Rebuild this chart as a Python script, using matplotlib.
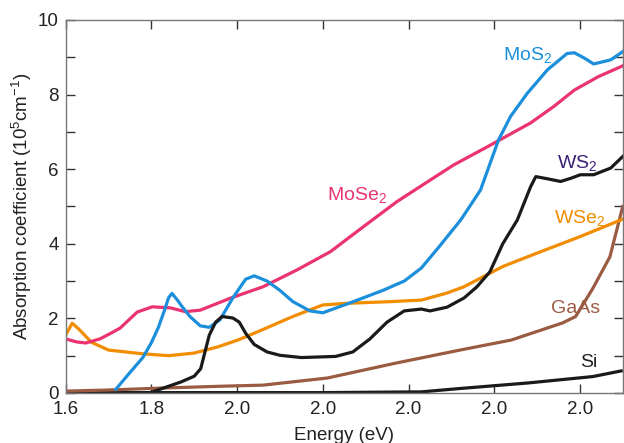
import matplotlib.pyplot as plt
from matplotlib.ticker import MultipleLocator, FixedLocator

plt.rcParams['font.family'] = ['Liberation Sans', 'DejaVu Sans']
plt.rcParams['mathtext.fontset'] = 'custom'
plt.rcParams['mathtext.rm'] = 'Liberation Sans'
plt.rcParams['mathtext.it'] = 'Liberation Sans:italic'
plt.rcParams['mathtext.bf'] = 'Liberation Sans:bold'

# Energy (eV) / absorption coefficient (10^5 cm^-1)
mose2_x = [1.60, 1.625, 1.647, 1.68, 1.71, 1.727, 1.767, 1.802, 1.845, 1.879, 1.914,
           1.984, 2.061, 2.14, 2.218, 2.295, 2.373, 2.451, 2.505, 2.584, 2.685,
           2.739, 2.787, 2.843, 2.90]
mose2_y = [1.45, 1.37, 1.34, 1.45, 1.63, 1.74, 2.17, 2.31, 2.28, 2.18, 2.22,
           2.54, 2.85, 3.30, 3.79, 4.46, 5.13, 5.71, 6.11, 6.60, 7.24,
           7.68, 8.12, 8.48, 8.77]

mos2_x = [1.717, 1.75, 1.78, 1.80, 1.816, 1.83, 1.84, 1.848, 1.86, 1.872, 1.89, 1.914,
          1.935, 1.96, 1.99, 2.02, 2.04, 2.07, 2.10, 2.13, 2.17, 2.20, 2.26, 2.34,
          2.39, 2.43, 2.47, 2.522, 2.568, 2.61, 2.638, 2.677, 2.724, 2.77, 2.787,
          2.81, 2.832, 2.872, 2.90]
mos2_y = [0.10, 0.55, 0.95, 1.35, 1.75, 2.20, 2.55, 2.67, 2.50, 2.31, 2.05, 1.80,
          1.76, 1.96, 2.55, 3.05, 3.14, 3.00, 2.75, 2.45, 2.20, 2.15, 2.40, 2.75,
          3.00, 3.35, 3.90, 4.64, 5.44, 6.78, 7.41, 8.03, 8.66, 9.10, 9.12,
          8.98, 8.82, 8.93, 9.15]

ws2_x = [1.80, 1.84, 1.87, 1.90, 1.915, 1.925, 1.935, 1.95, 1.965, 1.99, 2.005,
         2.02, 2.04, 2.07, 2.10, 2.15, 2.23, 2.27, 2.31, 2.35, 2.39, 2.43, 2.45,
         2.49, 2.53, 2.56, 2.59, 2.62, 2.654, 2.685, 2.697, 2.725, 2.755, 2.78,
         2.801, 2.832, 2.872, 2.90]
ws2_y = [0.02, 0.18, 0.30, 0.45, 0.65, 1.10, 1.55, 1.90, 2.05, 2.01, 1.90,
         1.60, 1.30, 1.10, 1.01, 0.95, 0.98, 1.10, 1.45, 1.90, 2.20, 2.25, 2.20,
         2.30, 2.55, 2.85, 3.25, 4.00, 4.64, 5.53, 5.80, 5.74, 5.67, 5.76,
         5.85, 5.85, 6.03, 6.34]

wse2_x = [1.60, 1.615, 1.63, 1.66, 1.70, 1.78, 1.84, 1.90, 1.956, 2.002, 2.06,
          2.13, 2.20, 2.25, 2.36, 2.43, 2.49, 2.53, 2.62, 2.70, 2.80, 2.90]
wse2_y = [1.55, 1.87, 1.72, 1.36, 1.15, 1.05, 1.00, 1.07, 1.24, 1.42, 1.70,
          2.05, 2.36, 2.40, 2.45, 2.49, 2.68, 2.85, 3.39, 3.75, 4.19, 4.66]

gaas_x = [1.60, 1.70, 1.82, 1.96, 2.06, 2.21, 2.37, 2.52, 2.64, 2.76, 2.79,
          2.83, 2.87, 2.90]
gaas_y = [0.05, 0.08, 0.13, 0.18, 0.21, 0.40, 0.80, 1.15, 1.42, 1.88, 2.05,
          2.80, 3.65, 5.00]

si_x = [1.60, 1.90, 2.10, 2.20, 2.43, 2.52, 2.68, 2.83, 2.90]
si_y = [0.01, 0.01, 0.01, 0.01, 0.03, 0.12, 0.27, 0.44, 0.60]

x_ticks = [1.6, 1.8, 2.0, 2.2, 2.4, 2.6, 2.8]
x_tick_labels = ["1.6", "1.8", "2.0", "2.0", "2.0", "2.0", "2.0"]

c_mos2 = "#1b8fdb"
c_mose2 = "#ea3370"
c_ws2 = "#1a1a1a"
c_wse2 = "#f28c00"
c_gaas = "#9b5a42"
c_si = "#1a1a1a"

fig = plt.figure(figsize=(6.24, 4.43), dpi=100)
ax = fig.add_axes([0.1053, 0.1129, 0.8927, 0.8421])

lw = 2.3
ax.plot(si_x, si_y, color=c_si, lw=lw, solid_capstyle="butt")
ax.plot(gaas_x, gaas_y, color=c_gaas, lw=lw)
ax.plot(wse2_x, wse2_y, color=c_wse2, lw=lw)
ax.plot(mose2_x, mose2_y, color=c_mose2, lw=lw)
ax.plot(mos2_x, mos2_y, color=c_mos2, lw=lw)
ax.plot(ws2_x, ws2_y, color=c_ws2, lw=lw)

ax.set_xlim(1.6, 2.9)
ax.set_ylim(0, 10)
ax.xaxis.set_major_locator(FixedLocator(x_ticks))
ax.set_xticklabels(x_tick_labels)
ax.yaxis.set_major_locator(MultipleLocator(2))
ax.yaxis.set_minor_locator(MultipleLocator(1))

for s in ax.spines.values():
    s.set_color("#777777")
    s.set_linewidth(1.0)
ax.tick_params(which="both", direction="in", top=True, right=True,
               length=6.5, width=1.0, color="#333333",
               labelsize=13.5, labelcolor="#222222")
ax.tick_params(axis="x", pad=6)
ax.tick_params(axis="y", pad=5)

ax.set_xlabel("Energy (eV)", fontsize=13.5, color="#222222", labelpad=6)
ax.set_ylabel("Absorption coefficient (10$^5$cm$^{-1}$)", fontsize=13.5,
              color="#222222", labelpad=3)

lab = dict(fontsize=14, ha="center", va="center")
ax.text(2.677, 9.06, "MoS$_2$", color=c_mos2, **lab)
ax.text(2.28, 5.31, "MoSe$_2$", color=c_mose2, **lab)
ax.text(2.794, 6.16, "WS$_2$", color="#3a1f78", **lab)
ax.text(2.80, 4.7, "WSe$_2$", color=c_wse2, **lab)
ax.text(2.79, 2.27, "GaAs", color=c_gaas, **lab)
ax.text(2.82, 0.83, "Si", color="#222222", **lab)

fig.savefig("out.png", dpi=100)
